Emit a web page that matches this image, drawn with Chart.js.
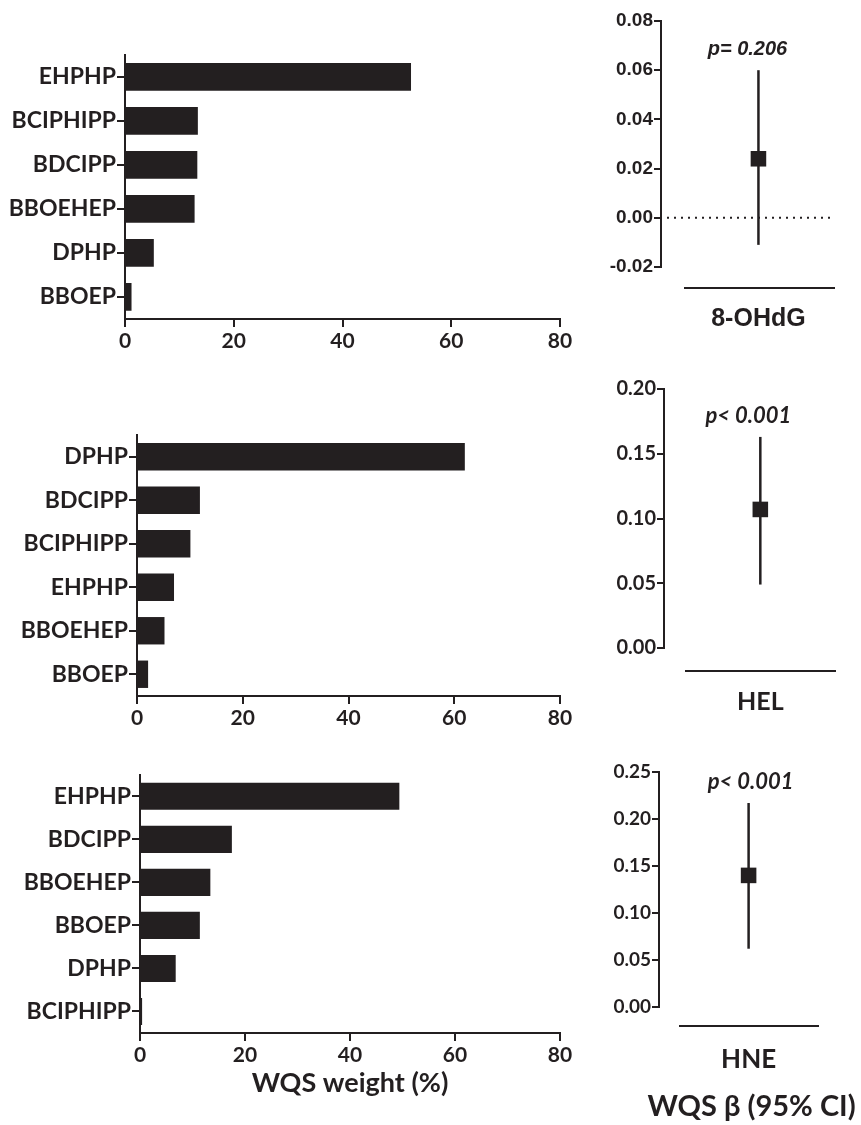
<!DOCTYPE html>
<html>
<head>
<meta charset="utf-8">
<script src="https://cdn.jsdelivr.net/npm/chart.js@4.4.1/dist/chart.umd.min.js"></script>
<style>
  body { margin: 0; background: #fff; }
  #wrap { position: relative; width: 861px; height: 1125px; overflow: hidden; }
  canvas { position: absolute; }
</style>
</head>
<body>
<div id="wrap">
  <canvas id="bar8OHdG" width="580" height="320" style="left:0;top:40px"></canvas>
  <canvas id="barHEL" width="580" height="320" style="left:0;top:420px"></canvas>
  <canvas id="barHNE" width="580" height="345" style="left:0;top:760px"></canvas>
  <canvas id="beta8OHdG" width="281" height="345" style="left:580px;top:0"></canvas>
  <canvas id="betaHEL" width="281" height="350" style="left:580px;top:370px"></canvas>
  <canvas id="betaHNE" width="281" height="375" style="left:580px;top:750px"></canvas>
</div>
<script>
// WQS weights (%) per outcome
const chemicals8OHdG = ['EHPHP', 'BCIPHIPP', 'BDCIPP', 'BBOEHEP', 'DPHP', 'BBOEP'];
const weights8OHdG = [52.6, 13.4, 13.3, 12.8, 5.3, 1.2];
const chemicalsHEL = ['DPHP', 'BDCIPP', 'BCIPHIPP', 'EHPHP', 'BBOEHEP', 'BBOEP'];
const weightsHEL = [62.0, 11.9, 10.1, 7.0, 5.2, 2.1];
const chemicalsHNE = ['EHPHP', 'BDCIPP', 'BBOEHEP', 'BBOEP', 'DPHP', 'BCIPHIPP'];
const weightsHNE = [49.4, 17.5, 13.4, 11.4, 6.8, 0.4];
const weightTicks = [0, 20, 40, 60, 80];

// WQS beta and 95% CI
const outcomes = ['8-OHdG', 'HEL', 'HNE'];
const betaEstimate = [0.024, 0.107, 0.140];
const betaLower = [-0.011, 0.049, 0.062];
const betaUpper = [0.060, 0.163, 0.217];
const pLabels = ['p= 0.206', 'p< 0.001', 'p< 0.001'];
const betaTicks8OHdG = [-0.02, 0, 0.02, 0.04, 0.06, 0.08];
const betaTicksHEL = [0, 0.05, 0.10, 0.15, 0.20];
const betaTicksHNE = [0, 0.05, 0.10, 0.15, 0.20, 0.25];

const ink = '#231f20';
const face = 'Lato, "Open Sans", sans-serif';
const arial = '"Liberation Sans", Arial, sans-serif';

function weightChart(id, labels, values, yWidth, xHeight, padTop, title) {
  return new Chart(document.getElementById(id), {
    type: 'bar',
    data: {
      labels: labels,
      datasets: [{
        data: values,
        backgroundColor: ink,
        barPercentage: 0.63,
        categoryPercentage: 1,
      }],
    },
    options: {
      indexAxis: 'y',
      responsive: false,
      animation: false,
      layout: { padding: { top: padTop, right: 20, left: 0, bottom: 0 } },
      plugins: { legend: { display: false }, tooltip: { enabled: false } },
      scales: {
        x: {
          min: 0,
          max: 80,
          afterBuildTicks: s => { s.ticks = weightTicks.map(v => ({ value: v })); },
          afterFit: s => { s.height = xHeight; },
          grid: { drawOnChartArea: false, tickLength: 8, color: ink, lineWidth: 2 },
          border: { color: ink, width: 2 },
          ticks: { color: ink, padding: 2, maxRotation: 0, font: { family: face, weight: 'bold', size: 21 } },
          title: {
            display: !!title,
            text: title || '',
            color: ink,
            padding: { top: 0, bottom: 6 },
            font: { family: face, weight: 'bold', size: 27 },
          },
        },
        y: {
          afterFit: s => { s.width = yWidth; },
          grid: { drawOnChartArea: false, offset: false, tickLength: 8, color: ink, lineWidth: 2 },
          border: { color: ink, width: 2 },
          ticks: { color: ink, padding: 1, font: { family: face, weight: 'bold', size: 23 } },
        },
      },
    },
  });
}

// dotted zero line, label line and texts for the beta panels
const betaDecor = {
  id: 'betaDecor',
  afterDraw(chart, args, o) {
    const { ctx, chartArea: a, scales: { x, y } } = chart;
    const cx = x.getPixelForValue(0);
    ctx.save();
    ctx.strokeStyle = ink;
    ctx.fillStyle = ink;
    if (o.zeroLine) {
      const zy = y.getPixelForValue(0);
      ctx.setLineDash([2, 5]);
      ctx.lineWidth = 2;
      ctx.beginPath();
      ctx.moveTo(a.left + 6, zy);
      ctx.lineTo(a.right - 2, zy);
      ctx.stroke();
      ctx.setLineDash([]);
    }
    ctx.lineWidth = 2;
    ctx.beginPath();
    ctx.moveTo(a.left + o.inset, a.bottom + o.lineGap);
    ctx.lineTo(a.right, a.bottom + o.lineGap);
    ctx.stroke();

    ctx.textAlign = 'center';
    ctx.textBaseline = 'middle';
    ctx.font = 'italic bold ' + o.pSize + 'px ' + o.font;
    ctx.fillText(o.p, cx + o.pShift, y.getPixelForValue(o.hi) - 21);
    ctx.font = 'bold ' + o.labelSize + 'px ' + o.font;
    ctx.fillText(o.label, cx, a.bottom + o.labelGap);
    if (o.extra) {
      ctx.font = 'bold 29px ' + face;
      ctx.fillText(o.extra, cx + 3, a.bottom + o.extraGap);
    }
    ctx.restore();
  },
};

function betaChart(id, i, ticks, yWidth, pad, decor) {
  return new Chart(document.getElementById(id), {
    type: 'scatter',
    data: {
      datasets: [
        {
          data: [{ x: 0, y: betaEstimate[i] }],
          pointStyle: 'rect',
          pointRadius: 11,
          backgroundColor: ink,
          borderWidth: 0,
        },
        {
          type: 'line',
          data: [{ x: 0, y: betaLower[i] }, { x: 0, y: betaUpper[i] }],
          borderColor: ink,
          borderWidth: 2.5,
          pointRadius: 0,
        },
      ],
    },
    options: {
      responsive: false,
      animation: false,
      layout: { padding: pad },
      plugins: {
        legend: { display: false },
        tooltip: { enabled: false },
        betaDecor: Object.assign({ p: pLabels[i], label: outcomes[i], hi: betaUpper[i] }, decor),
      },
      scales: {
        x: { display: false, min: -1.12, max: 0.88 },
        y: {
          min: ticks[0],
          max: ticks[ticks.length - 1],
          afterBuildTicks: s => { s.ticks = ticks.map(v => ({ value: v })); },
          afterFit: s => { s.width = yWidth; },
          grid: { drawOnChartArea: false, tickLength: 7, color: ink, lineWidth: 2 },
          border: { color: ink, width: 2 },
          ticks: {
            color: ink,
            padding: 1,
            font: { family: decor.font, weight: 'bold', size: decor.tickSize },
            callback: v => Number(v).toFixed(2),
          },
        },
      },
    },
    plugins: [betaDecor],
  });
}

weightChart('bar8OHdG', chemicals8OHdG, weights8OHdG, 125, 41, 10);
weightChart('barHEL', chemicalsHEL, weightsHEL, 137, 44, 15);
weightChart('barHNE', chemicalsHNE, weightsHNE, 140, 72, 13, 'WQS weight (%)');

betaChart('beta8OHdG', 0, betaTicks8OHdG, 81, { top: 21, right: 26, bottom: 78, left: 0 },
  { font: arial, tickSize: 19, pSize: 20, labelSize: 25,
    zeroLine: true, inset: 23, lineGap: 21, labelGap: 52, pShift: -11 });
betaChart('betaHEL', 1, betaTicksHEL, 84, { top: 19, right: 25, bottom: 72, left: 0 },
  { font: face, tickSize: 20, pSize: 22, labelSize: 25,
    inset: 21, lineGap: 23, labelGap: 54, pShift: -12 });
betaChart('betaHNE', 2, betaTicksHNE, 79, { top: 22, right: 42, bottom: 118, left: 0 },
  { font: face, tickSize: 19, pSize: 22, labelSize: 26,
    inset: 20, lineGap: 19, labelGap: 53, pShift: 2, extra: 'WQS \u03b2 (95% CI)', extraGap: 100 });
</script>
</body>
</html>
